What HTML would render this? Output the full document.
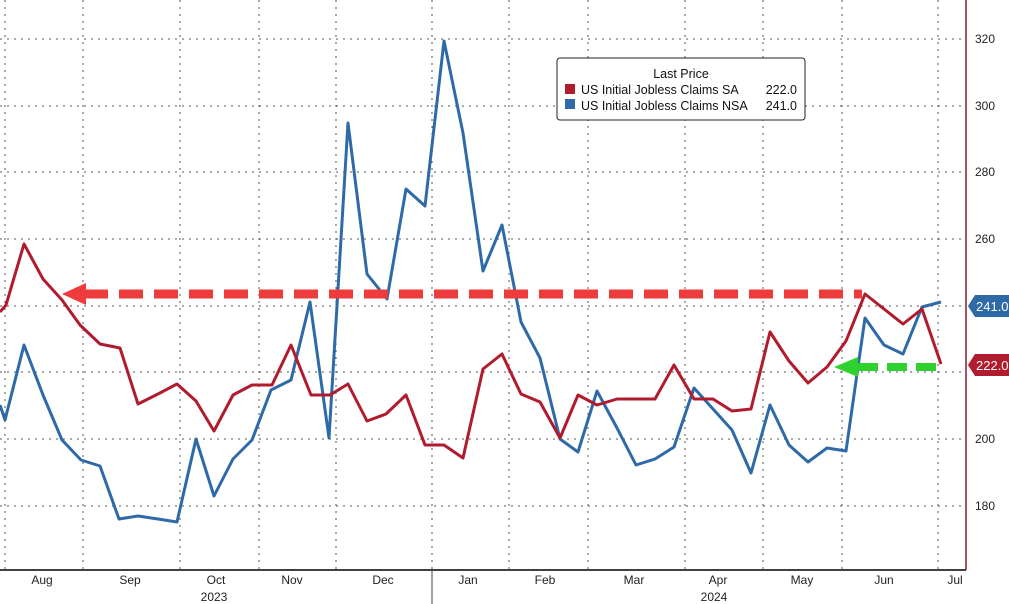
<!DOCTYPE html>
<html><head><style>body{margin:0;background:#fff}svg{display:block;font-family:"Liberation Sans",sans-serif}</style></head><body>
<svg width="1009" height="604" viewBox="0 0 1009 604">
<g stroke="#555" stroke-width="1" stroke-dasharray="2,5">
<line x1="0" y1="39" x2="966" y2="39"/><line x1="0" y1="106" x2="966" y2="106"/><line x1="0" y1="172" x2="966" y2="172"/><line x1="0" y1="239" x2="966" y2="239"/><line x1="0" y1="306" x2="966" y2="306"/><line x1="0" y1="372" x2="966" y2="372"/><line x1="0" y1="439" x2="966" y2="439"/><line x1="0" y1="506" x2="966" y2="506"/>
<line x1="5" y1="0" x2="5" y2="570"/><line x1="83" y1="0" x2="83" y2="570"/><line x1="180" y1="0" x2="180" y2="570"/><line x1="259" y1="0" x2="259" y2="570"/><line x1="336" y1="0" x2="336" y2="570"/><line x1="432" y1="0" x2="432" y2="570"/><line x1="509" y1="0" x2="509" y2="570"/><line x1="588" y1="0" x2="588" y2="570"/><line x1="685" y1="0" x2="685" y2="570"/><line x1="763" y1="0" x2="763" y2="570"/><line x1="842" y1="0" x2="842" y2="570"/><line x1="938" y1="0" x2="938" y2="570"/>
</g>
<line x1="0" y1="570" x2="966" y2="570" stroke="#000" stroke-width="1.5"/>
<line x1="966" y1="0" x2="966" y2="570" stroke="#8b1a2b" stroke-width="1.5"/>
<line x1="432" y1="570" x2="432" y2="604" stroke="#444"/>
<g font-size="12" fill="#222">
<text x="975" y="43">320</text><text x="975" y="110">300</text><text x="975" y="176">280</text><text x="975" y="243">260</text><text x="975" y="443">200</text><text x="975" y="510">180</text>
</g>
<g font-size="12" fill="#222" text-anchor="middle">
<text x="42" y="584">Aug</text><text x="130" y="584">Sep</text><text x="216" y="584">Oct</text><text x="292" y="584">Nov</text><text x="383" y="584">Dec</text><text x="468" y="584">Jan</text><text x="545" y="584">Feb</text><text x="634" y="584">Mar</text><text x="718" y="584">Apr</text><text x="802" y="584">May</text><text x="884" y="584">Jun</text><text x="955" y="584">Jul</text>
<text x="214" y="601">2023</text><text x="714" y="601">2024</text>
</g>
<polyline fill="none" stroke="#2e6aa7" stroke-width="3" stroke-linejoin="round" points="0,405 5,420 24,345 43,395 62,440 81,460 100,466 119,519 138,516 158,519 177,522 196,439 214,496 233,459 252,440 271,390 291,380 310,302 329,438 348,123 367,274 387,299 406,189 425,206 444,41 463,133 483,271 502,225 521,322 540,358 560,439 578,452 597,391 617,428 636,465 655,459 674,447 694,388 713,409 732,430 751,473 770,405 789,445 808,462 827,448 846,451 865,318 884,345 903,354 922,307 941,302"/>
<polyline fill="none" stroke="#b01c2e" stroke-width="3" stroke-linejoin="round" points="0,312 6,305 24,244 43,279 62,300 80,325 100,344 120,348 138,404 158,394 177,384 196,401 214,431 233,395 252,385 272,385 291,345 311,395 330,395 348,384 367,421 386,414 406,395 425,445 444,445 463,458 483,369 502,354 521,394 540,402 560,438 578,395 597,405 617,399 636,399 655,399 674,365 694,399 713,399 732,411 751,409 770,332 789,361 808,383 827,367 846,341 865,294 884,309 903,324 922,309 941,364"/>
<line x1="84" y1="294" x2="862" y2="294" stroke="#ee3b3b" stroke-width="9" stroke-dasharray="24,11"/>
<polygon points="62,294 86,283 86,305" fill="#ee3b3b"/>
<line x1="858" y1="367" x2="940" y2="367" stroke="#2ed12e" stroke-width="8" stroke-dasharray="20,9"/>
<polygon points="834,367 858,357 858,377" fill="#2ed12e"/>
<path d="M968,306 L975,295 L1009,295 L1009,317 L975,317 Z" fill="#2e6aa7"/>
<text x="976" y="311" font-size="13" fill="#fff">241.0</text>
<path d="M968,365 L975,354 L1009,354 L1009,376 L975,376 Z" fill="#b01c2e"/>
<text x="976" y="370" font-size="13" fill="#fff">222.0</text>
<rect x="557" y="58" width="248" height="62" rx="3" fill="#fff" stroke="#222"/>
<text x="681" y="78" font-size="12.5" text-anchor="middle" fill="#111">Last Price</text>
<rect x="565" y="84" width="10" height="10" fill="#b01c2e"/><rect x="565" y="99" width="10" height="10" fill="#2e6aa7"/>
<text x="581" y="94" font-size="12.5" fill="#111">US Initial Jobless Claims SA</text><text x="797" y="94" font-size="12.5" fill="#111" text-anchor="end">222.0</text>
<text x="581" y="110" font-size="12.5" fill="#111">US Initial Jobless Claims NSA</text><text x="797" y="110" font-size="12.5" fill="#111" text-anchor="end">241.0</text>
</svg>
</body></html>
